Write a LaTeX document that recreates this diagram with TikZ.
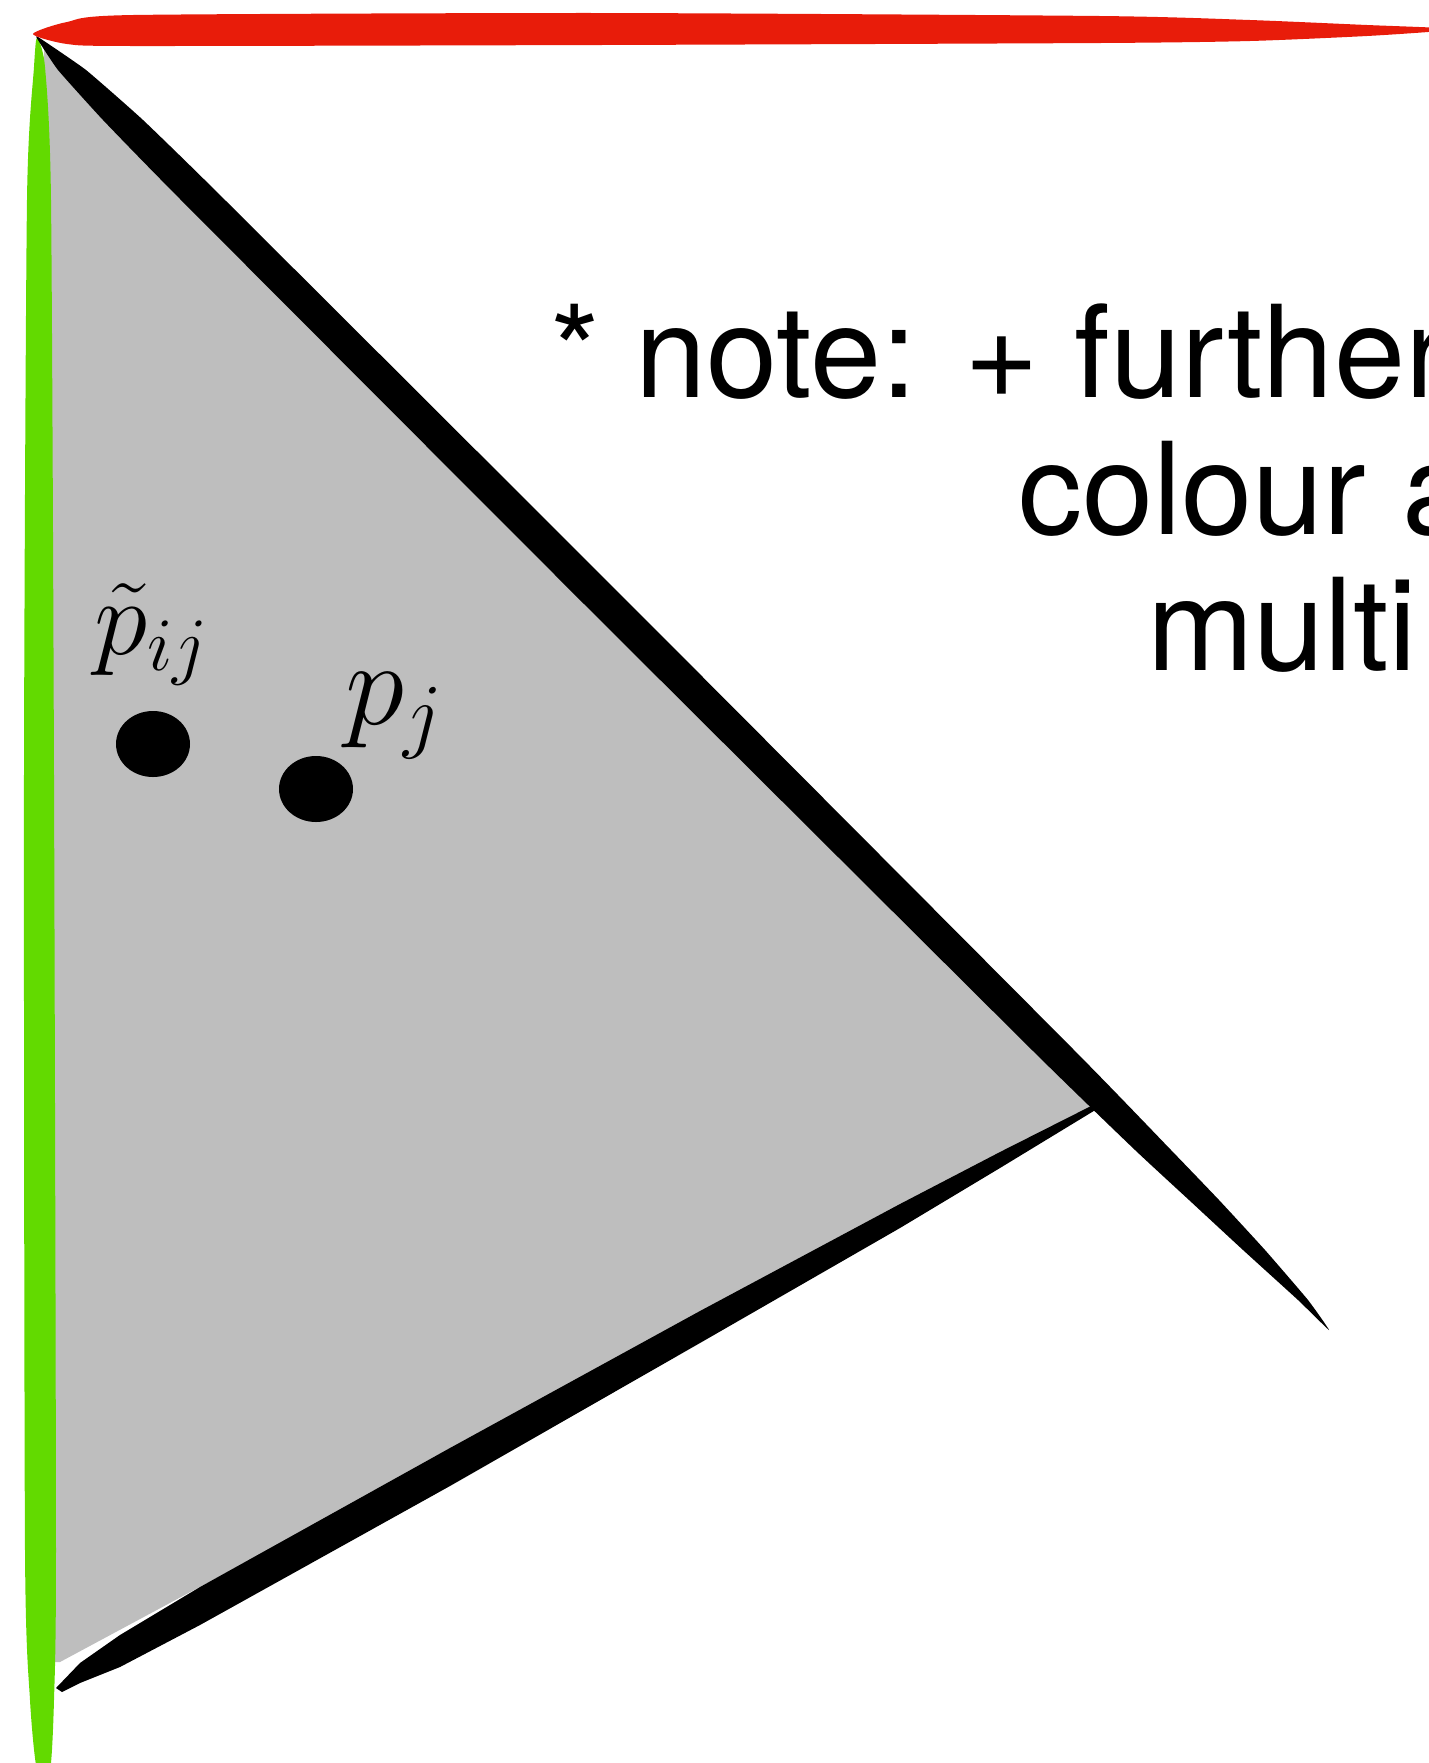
\RequirePackage{fix-cm}
\documentclass[tikz,border=0pt]{standalone}
\usepackage{fontspec}
\usepackage{tikz}
\usetikzlibrary{shapes.geometric,positioning}
\newfontfamily\notefont{TeX Gyre Heros}
\definecolor{penred}{RGB}{232,28,10}
\definecolor{pengreen}{RGB}{98,218,0}
\definecolor{shadegray}{RGB}{190,190,190}
\tikzset{
  notetext/.style={font=\notefont\fontsize{64pt}{64pt}\selectfont, anchor=base west, inner sep=0pt, outer sep=0pt},
  momlabel/.style={anchor=base west, inner sep=0pt, outer sep=0pt},
  blob/.style={ellipse, fill=black, minimum width=37pt, minimum height=33pt, inner sep=0pt}
}

\begin{document}
\begin{tikzpicture}[x=0.5pt,y=-0.5pt]
    \useasboundingbox (0,0) rectangle (1429,1763);
    \clip (0,0) rectangle (1429,1763);
    % 灰色区域
    \coordinate (corner) at (44,42);
    \coordinate (joint) at (1095,1106);
    \fill[shadegray] (corner) -- (joint) -- (60,1662) -- (48,1662) -- cycle;
    % 绿色边
    \fill[pengreen] plot[smooth cycle, tension=0.4] coordinates {(37,38) (45,67) (51,200) (54,775) (56,1550) (54,1700) (50,1770) (37,1770) (30,1700) (25,1550) (24,775) (27,200) (34,67)};
    % 黑色斜线
    \fill[black] plot[smooth cycle, tension=0.25] coordinates {(38,37) (86,70) (143,120) (225,200) (626,600) (1074,1050)
        (1171,1150) (1219,1200) (1265,1250) (1308,1300) (1329,1330)
        (1298,1300) (1243,1250) (1189,1200) (1135,1150) (1032,1050)
        (580,600) (181,200) (103,120) (58,70) (38,40)};
    \fill[black] (56,1688) -- (80,1663) -- (120,1635) -- (200,1587) -- (450,1448) -- (700,1311)
        -- (900,1204) -- (1000,1152) -- (1097,1103) -- (1097,1109) -- (1000,1168) -- (900,1228)
        -- (700,1343) -- (450,1486) -- (200,1625) -- (120,1667) -- (80,1683) -- (62,1692) -- cycle;
    % 红色边
    \fill[penred] plot[smooth cycle, tension=0.4] coordinates {(33,34) (67,22) (133,15) (600,13) (1100,16) (1250,20) (1367,25) (1440,28) (1440,31) (1367,36) (1250,41) (1100,43) (600,45) (133,46) (67,44)};
    % 点
    \node[blob] (dotpt) at (153,744) {};
    \node[blob] (dotpj) at (316,789) {};
    \node[momlabel, font=\fontsize{54pt}{54pt}\selectfont] (labpt) at (94,654) {$\tilde{p}_{ij}$};
    \node[momlabel, font=\fontsize{60pt}{60pt}\selectfont] (labpj) at (345,724) {$p_j$};
    % 注释
    \node[notetext] (note1) at (550,397) {* note: + further};
    \node[notetext] (note2) at (1018,534) {colour a};
    \node[notetext] (note3) at (1147,670) {multi};
\end{tikzpicture}
\end{document}
